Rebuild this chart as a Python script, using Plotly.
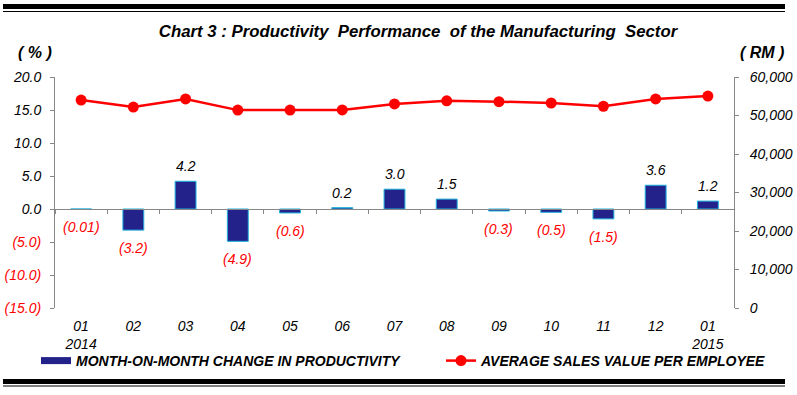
import plotly.graph_objects as go

# ---- data ----
months = ["01<br>2014", "02", "03", "04", "05", "06", "07", "08", "09", "10", "11", "12", "01<br>2015"]
productivity_change = [-0.01, -3.2, 4.2, -4.9, -0.6, 0.2, 3.0, 1.5, -0.3, -0.5, -1.5, 3.6, 1.2]
avg_sales = [54000, 52200, 54300, 51400, 51400, 51450, 53000, 53800, 53600, 53250, 52400, 54300, 55050]
left_tick_vals = [-15, -10, -5, 0, 5, 10, 15, 20]
right_tick_vals = [0, 10000, 20000, 30000, 40000, 50000, 60000]

# ---- layout geometry (pixels) ----
W, H = 797, 395
L, R, T, B = 55, 734, 77, 308
FONT = "Arial, 'Liberation Sans', sans-serif"
RED = "#FF0000"
GRAY = "#878787"


def px_x(p):
    return (p - L) / (R - L)


def px_y(p):
    return (B - p) / (B - T)


def fmt_pct(v):
    if v < 0:
        a = abs(v)
        return "(%s)" % (("%.2f" % a) if a < 0.05 else ("%.1f" % a))
    return "%.1f" % v


def fmt_left(v):
    return "<span style='color:%s'>(%.1f)</span>" % (RED, abs(v)) if v < 0 else "%.1f" % v


fig = go.Figure()

fig.add_trace(go.Bar(
    x=months, y=productivity_change, xaxis="x", yaxis="y",
    marker=dict(color="#22228A", line=dict(color="#1FB2DC", width=1)),
    width=0.4, showlegend=False, hoverinfo="skip",
))

# invisible helper trace so the zero-line category axis (x2) is drawn
fig.add_trace(go.Scatter(
    x=months, y=[None] * len(months), xaxis="x2", yaxis="y", mode="markers",
    showlegend=False, hoverinfo="skip",
))

fig.add_trace(go.Scatter(
    x=[None], y=[None], mode="lines", xaxis="x", yaxis="y",
    line=dict(color="#22228A", width=7), legend="legend",
    name="MONTH-ON-MONTH CHANGE IN PRODUCTIVITY",
))

fig.add_trace(go.Scatter(
    x=months, y=avg_sales, xaxis="x", yaxis="y2",
    mode="lines+markers",
    line=dict(color=RED, width=2.5),
    marker=dict(color=RED, size=11), legend="legend2",
    name="AVERAGE SALES VALUE PER EMPLOYEE",
))

# bar value labels
annotations = []
for i, v in enumerate(productivity_change):
    neg = v < 0
    annotations.append(dict(
        x=i, y=v, xref="x", yref="y",
        text=fmt_pct(v), showarrow=False,
        yanchor="top" if neg else "bottom",
        yshift=-8 if neg else 5,
        font=dict(family=FONT, size=14, color=RED if neg else "black", style="italic"),
    ))

annotations += [
    dict(xref="paper", yref="paper", x=px_x(35), y=px_y(52), text="( % )", showarrow=False,
         xanchor="center", yanchor="middle",
         font=dict(family=FONT, size=16, color="black", style="italic", weight="bold")),
    dict(xref="paper", yref="paper", x=px_x(762), y=px_y(52), text="( RM )", showarrow=False,
         xanchor="center", yanchor="middle",
         font=dict(family=FONT, size=16, color="black", style="italic", weight="bold")),
]

shapes = [
    dict(type="rect", xref="paper", yref="paper", x0=px_x(3), x1=px_x(785), y0=px_y(9), y1=px_y(4),
         fillcolor="black", line=dict(width=0)),
    dict(type="rect", xref="paper", yref="paper", x0=px_x(3), x1=px_x(785), y0=px_y(12), y1=px_y(11),
         fillcolor="black", line=dict(width=0)),
    dict(type="rect", xref="paper", yref="paper", x0=px_x(3), x1=px_x(785), y0=px_y(384), y1=px_y(379),
         fillcolor="black", line=dict(width=0)),
    dict(type="rect", xref="paper", yref="paper", x0=px_x(3), x1=px_x(785), y0=px_y(386.5), y1=px_y(385.5),
         fillcolor="black", line=dict(width=0)),
]

NB = "\u00a0"
title_text = ("Chart 3 : Productivity" + NB * 2 + "Performance" + NB * 2 + "of the Manufacturing"
              + NB * 2 + "Sector")

tick_font = dict(family=FONT, size=14, color="black", style="italic")
legend_font = dict(family=FONT, size=14, color="black", style="italic", weight="bold")

fig.update_layout(
    width=W, height=H,
    margin=dict(l=L, r=W - R, t=T, b=H - B, pad=0, autoexpand=False),
    paper_bgcolor="white", plot_bgcolor="white",
    font=dict(family=FONT, color="black"),
    title=dict(text=title_text, x=418 / W, xanchor="center", xref="container",
               y=1 - 31 / H, yanchor="middle",
               font=dict(family=FONT, size=16.8, color="black", style="italic", weight="bold")),
    xaxis=dict(
        type="category", range=[-0.5, len(months) - 0.5], automargin=False,
        showline=False, ticks="", showgrid=False, zeroline=False,
        tickfont=tick_font, ticklabelstandoff=8,
    ),
    xaxis2=dict(
        type="category", range=[-0.5, len(months) - 0.5], overlaying="x", automargin=False,
        anchor="free", position=15 / 35,
        showline=True, linecolor=GRAY, linewidth=1,
        ticks="outside", tickson="boundaries", ticklen=4, tickcolor=GRAY,
        showticklabels=False, showgrid=False, zeroline=False,
    ),
    yaxis=dict(
        range=[-15, 20], tickvals=left_tick_vals, ticktext=[fmt_left(v) for v in left_tick_vals],
        showline=True, linecolor=GRAY, linewidth=1, ticks="outside", ticklen=4, tickcolor=GRAY,
        showgrid=False, zeroline=True, zerolinecolor=GRAY, zerolinewidth=1,
        tickfont=tick_font, ticklabelstandoff=6, automargin=False,
    ),
    yaxis2=dict(
        range=[0, 60000], tickvals=right_tick_vals, tickformat=",", overlaying="y", side="right",
        showline=True, linecolor=GRAY, linewidth=1, ticks="outside", ticklen=4, tickcolor=GRAY,
        showgrid=False, zeroline=False, tickfont=tick_font, ticklabelstandoff=8, automargin=False,
    ),
    legend=dict(
        orientation="h", x=px_x(36), xanchor="left", y=px_y(361), yanchor="middle",
        font=legend_font, bgcolor="rgba(0,0,0,0)",
    ),
    legend2=dict(
        orientation="h", x=px_x(441), xanchor="left", y=px_y(361), yanchor="middle",
        font=legend_font, bgcolor="rgba(0,0,0,0)",
    ),
    annotations=annotations,
    shapes=shapes,
)

fig.write_html(
    "out.html",
    config={"displayModeBar": False},
    post_script="document.body.style.margin='0';document.body.style.overflow='hidden';"
                "document.documentElement.style.overflow='hidden';",
)
